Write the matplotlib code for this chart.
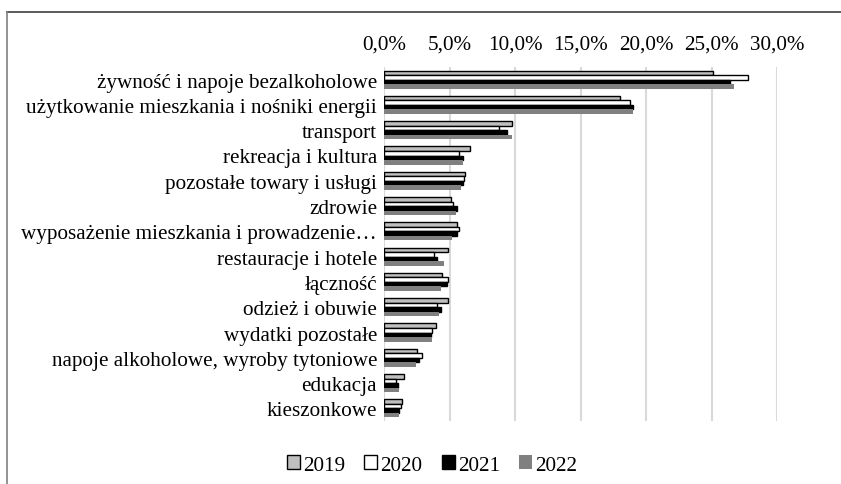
import numpy as np
import matplotlib
matplotlib.use('Agg')
import matplotlib.pyplot as plt
from matplotlib.lines import Line2D
from matplotlib.ticker import FuncFormatter

plt.rcParams['font.family'] = ['Liberation Serif', 'DejaVu Serif']

categories = [
  'żywność i napoje bezalkoholowe',
  'użytkowanie mieszkania i nośniki energii',
  'transport',
  'rekreacja i kultura',
  'pozostałe towary i usługi',
  'zdrowie',
  'wyposażenie mieszkania i prowadzenie…',
  'restauracje i hotele',
  'łączność',
  'odzież i obuwie',
  'wydatki pozostałe',
  'napoje alkoholowe, wyroby tytoniowe',
  'edukacja',
  'kieszonkowe',
]

years = ['2019', '2020', '2021', '2022']

v2019 = [25.1, 18.0, 9.75, 6.6, 6.2, 5.1, 5.6, 4.9, 4.4, 4.85, 4.0, 2.5, 1.5, 1.4]
v2020 = [27.8, 18.8, 8.8, 5.7, 6.1, 5.3, 5.7, 3.8, 4.9, 4.05, 3.7, 2.9, 0.95, 1.3]
v2021 = [26.4, 19.0, 9.4, 6.0, 6.0, 5.6, 5.6, 4.05, 4.8, 4.35, 3.55, 2.65, 1.05, 1.15]
v2022 = [26.7, 19.0, 9.8, 6.05, 5.85, 5.5, 5.2, 4.55, 4.35, 4.2, 3.7, 2.45, 1.15, 1.15]

series = [v2019, v2020, v2021, v2022]
fills = ['#bfbfbf', '#ffffff', '#000000', '#808080']
edges = ['#000000', '#000000', '#000000', 'none']
fs = 15.2

W, H = 841, 485
fig = plt.figure(figsize=(W / 100, H / 100), dpi=100)
ax = fig.add_axes([384 / W, 1 - 422 / H, (777 - 384) / W, (422 - 68) / H])

y = np.arange(len(categories))
h = 0.18
for k, vals in enumerate(series):
  ax.barh(y + (k - 1.5) * h, vals, height=h, color=fills[k],
          edgecolor=edges[k], linewidth=1.0 if edges[k] != 'none' else 0,
          label=years[k], zorder=3)

ax.set_xlim(0, 30)
ax.set_ylim(len(categories) - 0.5, -0.5)
ax.set_xticks(np.arange(0, 31, 5))
ax.xaxis.set_major_formatter(FuncFormatter(lambda v, p: ('%.1f%%' % v).replace('.', ',')))
ax.xaxis.tick_top()
ax.set_yticks(y)
ax.set_yticklabels(categories)
ax.tick_params(axis='x', length=0, pad=10, labelsize=fs)
ax.tick_params(axis='y', length=0, pad=5, labelsize=fs)
ax.grid(axis='x', color='#d9d9d9', linewidth=1.5, zorder=0)
for s in ax.spines.values():
  s.set_visible(False)

handles = [plt.Rectangle((0, 0), 1, 1, facecolor=fills[k], edgecolor=edges[k],
                         linewidth=1.0 if edges[k] != 'none' else 0) for k in range(4)]
fig.legend(handles, years, loc='center', bbox_to_anchor=(432 / W, 1 - 466 / H),
           ncol=4, frameon=False, fontsize=fs, handlelength=0.62, handleheight=0.62,
           handletextpad=0.15, columnspacing=0.9, borderpad=0)

# chart border (only top and left are visible in the crop)
fig.add_artist(Line2D([7 / W, 1], [1 - 13 / H, 1 - 13 / H], transform=fig.transFigure,
                      color='#404040', linewidth=1.2))
fig.add_artist(Line2D([7 / W, 7 / W], [0, 1 - 13 / H], transform=fig.transFigure,
                      color='#808080', linewidth=1.2))

fig.savefig('out.png', dpi=100)
